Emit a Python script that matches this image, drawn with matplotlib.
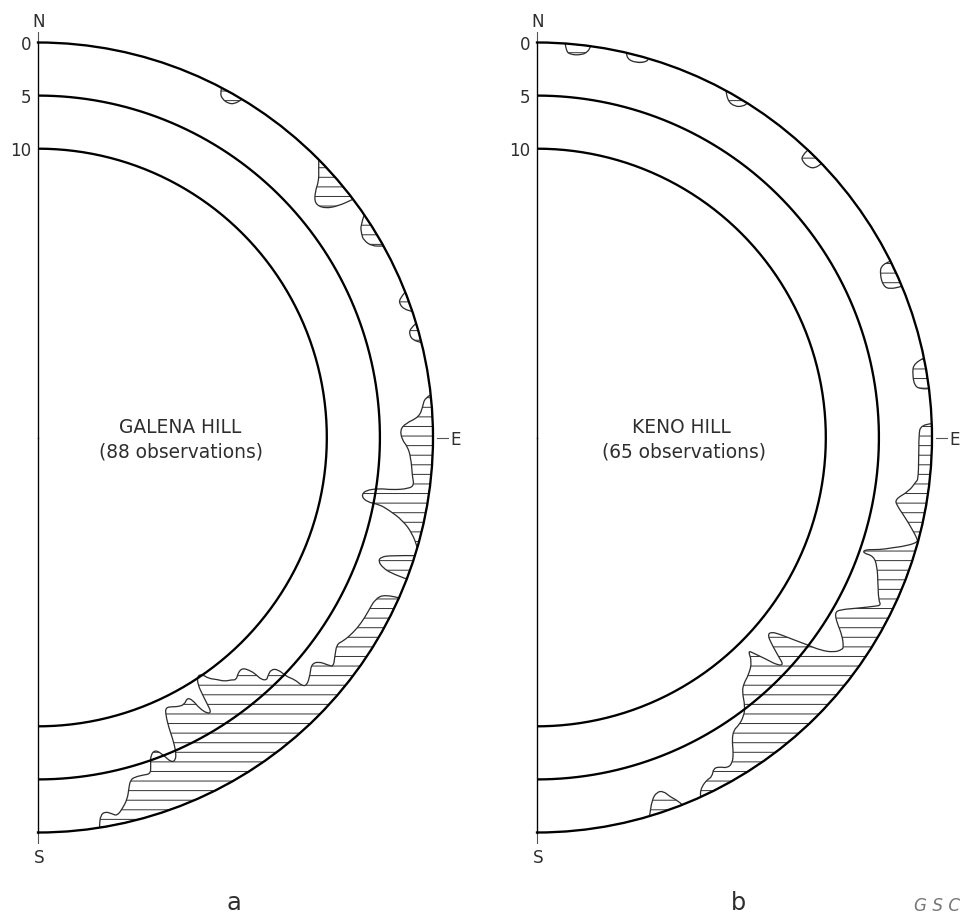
import numpy as np
import matplotlib
matplotlib.use("Agg")
import matplotlib.pyplot as plt
from matplotlib.path import Path
from matplotlib.patches import PathPatch

# ---------------- data ----------------
rings = [5, 10]                      # inner reference circles (outer circle = 0)
ring_label_values = [0, 5, 10]
ring_labels = ["0", "5", "10"]
centre_value = 37.2                  # radial value at the centre of each diagram

galena_title = "GALENA HILL"
galena_count = "(88 observations)"
keno_title = "KENO HILL"
keno_count = "(65 observations)"
panel_letters = ["a", "b"]
credit = "G S C"

# Galena Hill: azimuth (deg clockwise from N) and depth in from the outer circle
ga1_az = [27.7, 27.9, 28.6, 29.6, 30.5, 31.1]
ga1_dp = [0, 0.55, 0.9, 1.0, 0.75, 0]
ga2_az = [45.3, 46.4, 47.6, 48.4, 49.8, 51.4, 52.4, 52.9]
ga2_dp = [0, 0.7, 1.4, 2.3, 3.1, 2.65, 1.45, 0]
ga3_az = [55.7, 56.65, 57.8, 58.8, 60.2, 61.0]
ga3_dp = [0, 0.85, 1.2, 1.35, 0.95, 0]
ga4_az = [68.4, 69.0, 69.8, 70.7, 71.4]
ga4_dp = [0, 0.75, 0.9, 0.65, 0]
ga5_az = [73.2, 73.7, 74.5, 75.4, 76.1]
ga5_dp = [0, 0.7, 0.9, 0.75, 0]
ga6_az = [83.8, 84.2, 85.4, 86.9, 87.8, 88.8, 90.4, 91.4, 93.0, 96.0, 97.2,
          97.85, 98.4, 98.5, 99.2, 100.3, 101.1, 101.1, 101.7, 102.8, 104.4, 106.2]
ga6_dp = [0, 0.6, 0.85, 1.25, 2.55, 3.1, 2.9, 2.4, 2.05, 1.75, 1.5,
          1.95, 3.45, 4.75, 6.0, 6.25, 5.6, 4.45, 3.45, 2.0, 0.8, 0]
ga7_az = [107.4, 108.45, 109.2, 110.0, 110.7, 111.0, 111.0]
ga7_dp = [0, 2.1, 3.0, 3.1, 2.45, 1.6, 0]
ga8_az = [113.95, 114.3, 115.6, 117.7, 119.8, 121.8, 123.7, 124.7, 126.6, 127.8,
          128.1, 128.6, 129.7, 131.1, 132.7, 133.25, 133.3, 133.9, 134.0, 134.85,
          136.1, 136.7, 137.3, 137.4, 137.6, 138.4, 139.7, 140.7, 141.4, 142.6,
          143.4, 144.8, 145.2, 146.25, 147.1, 147.4, 147.6, 147.75, 148.4, 149.2,
          149.5, 150.2, 151.3, 152.6, 153.2, 154.7, 155.3, 155.75, 155.9, 156.3,
          156.9, 157.7, 158.4, 159.4, 160.5, 161.0, 161.5, 162.6, 164.0, 164.9,
          165.5, 166.1, 167.2, 168.2, 168.9, 169.8, 170.6, 171.0, 171.0]
ga8_dp = [0, 1.34, 2.0, 2.05, 2.1, 2.3, 2.65, 3.0, 2.4, 2.0,
          2.45, 3.4, 3.75, 3.2, 2.75, 3.1, 3.95, 4.75, 5.75, 6.25,
          6.0, 5.8, 6.2, 6.85, 7.4, 8.2, 8.1, 7.7, 8.0, 8.3,
          8.8, 9.45, 10.05, 10.2, 9.5, 8.4, 7.4, 6.65, 6.65, 7.5,
          8.5, 8.95, 8.5, 8.65, 8.8, 9.1, 8.4, 7.15, 6.15, 4.9,
          4.15, 4.15, 5.0, 5.8, 5.45, 4.6, 3.8, 3.9, 3.95, 3.8,
          3.05, 2.15, 1.35, 0.8, 1.1, 1.4, 1.15, 0.2, 0]

# Keno Hill
kb1_az = [4.1, 4.3, 5.0, 6.5, 7.5, 7.8]
kb1_dp = [0, 0.7, 1.0, 0.95, 0.6, 0]
kb2_az = [13.1, 13.3, 14.9, 16.25, 16.4]
kb2_dp = [0, 0.55, 0.7, 0.35, 0]
kb3_az = [28.6, 29.4, 30.9, 31.9, 32.2]
kb3_dp = [0, 0.75, 0.9, 0.45, 0]
kb4_az = [43.3, 43.2, 44.0, 45.2, 45.9, 46.1]
kb4_dp = [0, 0.85, 1.15, 1.1, 0.75, 0]
kb5_az = [63.5, 63.3, 64.6, 66.4, 67.2, 67.5]
kb5_dp = [0, 0.9, 1.45, 1.6, 1.15, 0]
kb6_az = [78.4, 78.8, 80.5, 82.3, 82.8, 82.9]
kb6_dp = [0, 1.05, 1.35, 1.3, 0.7, 0]
kb7_az = [88.0, 88.05, 89.8, 93.3, 96.3, 96.6, 98.2, 99.8, 100.8, 102.3,
          103.8, 105.0, 105.4, 106.3, 107.35, 108.1, 108.85, 109.5, 109.4, 110.75,
          113.1, 115.4, 116.0, 116.6, 117.8, 119.6, 120.5, 121.7, 122.9, 124.3,
          124.8, 125.9, 126.9, 127.5, 128.25, 129.0, 129.7, 130.6, 131.4, 132.2,
          132.7, 133.45, 134.0, 134.9, 135.3, 136.2, 138.3, 139.9, 141.1, 142.3,
          143.5, 144.95, 146.1, 147.2, 148.1, 149.1, 150.1, 150.9, 151.9, 152.7,
          153.6, 154.7, 155.35, 155.5]
kb7_dp = [0, 1.05, 1.25, 1.2, 1.1, 1.25, 1.8, 3.0, 2.65, 1.7,
          0.8, 0.1, 0.05, 0.9, 2.3, 3.2, 4.55, 4.65, 3.6, 2.95,
          2.3, 1.6, 1.15, 1.7, 2.8, 4.4, 4.65, 4.0, 3.0, 2.25,
          2.2, 2.7, 3.85, 5.15, 6.45, 7.75, 8.55, 8.6, 7.7, 6.5,
          5.6, 6.05, 7.1, 8.45, 8.95, 7.95, 7.25, 6.95, 6.45, 5.15,
          4.5, 4.1, 4.0, 3.3, 2.2, 1.4, 1.3, 1.7, 1.9, 1.25,
          1.2, 0.85, 0.35, 0]
kb8_az = [158.4, 158.9, 159.65, 160.35, 161.35, 162.4, 163.45]
kb8_dp = [0, 0.6, 1.1, 1.85, 1.95, 1.4, 0]

galena_az = [ga1_az, ga2_az, ga3_az, ga4_az, ga5_az, ga6_az, ga7_az, ga8_az]
galena_dp = [ga1_dp, ga2_dp, ga3_dp, ga4_dp, ga5_dp, ga6_dp, ga7_dp, ga8_dp]
keno_az = [kb1_az, kb2_az, kb3_az, kb4_az, kb5_az, kb6_az, kb7_az, kb8_az]
keno_dp = [kb1_dp, kb2_dp, kb3_dp, kb4_dp, kb5_dp, kb6_dp, kb7_dp, kb8_dp]

# ---------------- style ----------------
W, H, DPI = 965, 916, 115
INK = "#2e2e2e"
plt.rcParams["font.family"] = ["DejaVu Sans"]
plt.rcParams["hatch.linewidth"] = 0.6
plt.rcParams["hatch.color"] = "#3a3a3a"

fig = plt.figure(figsize=(W / DPI, H / DPI), dpi=DPI)


def fpx(x, y):
    return x / W, 1 - y / H


def make_axes(axis_x_px):
    # the half-disc wedge occupies the central half (in width) of a square box
    top, radius = 42.5, 395.0
    side = 2 * radius
    left = axis_x_px - radius / 2
    ax = fig.add_axes([left / W, (H - top - side) / H, side / W, side / H],
                      projection="polar")
    ax.set_theta_zero_location("N")
    ax.set_theta_direction(-1)
    ax.set_thetamin(0)
    ax.set_thetamax(180)
    ax.set_rlim(centre_value, 0)
    ax.set_xticks([])
    ax.set_yticks([])
    ax.grid(False)
    ax.patch.set_alpha(0)
    for s in ("start", "end", "inner"):
        if s in ax.spines:
            ax.spines[s].set_visible(False)
    ax.spines["polar"].set_linewidth(1.45)
    ax.spines["polar"].set_color("black")
    return ax


def outline_path(az, dp):
    """Smooth outline (quadratic Bezier through the read points) closed
    back along the outer circle."""
    th = np.deg2rad(np.asarray(az, float))
    r = np.asarray(dp, float)
    verts = [(th[0], r[0])]
    codes = [Path.MOVETO]
    for i in range(1, len(th) - 1):
        verts += [(th[i], r[i]), ((th[i] + th[i + 1]) / 2, (r[i] + r[i + 1]) / 2)]
        codes += [Path.CURVE3, Path.CURVE3]
    verts.append((th[-1], r[-1]))
    codes.append(Path.LINETO)
    base = np.linspace(th[-1], th[0], 40)
    for b in base[1:]:
        verts.append((b, 0.0))
        codes.append(Path.LINETO)
    verts.append((th[0], r[0]))
    codes.append(Path.CLOSEPOLY)
    return Path(verts, codes)


def draw_panel(ax, az_list, dp_list):
    for az, dp in zip(az_list, dp_list):
        patch = PathPatch(outline_path(az, dp), facecolor="white",
                          edgecolor=INK, hatch="--", linewidth=0.8, zorder=2,
                          transform=ax.transData)
        ax.add_patch(patch)
    th = np.linspace(0, np.pi, 400)
    for r in rings:
        ax.plot(th, np.full_like(th, r), color="black", lw=1.45, zorder=3)
    # N-S axis
    ax.plot([0, 0], [-1.0, centre_value], color="#555555", lw=0.7,
            clip_on=False, zorder=1)
    ax.plot([np.pi, np.pi], [centre_value, -1.0], color="#555555", lw=0.7,
            clip_on=False, zorder=1)
    # E tick
    ax.plot([np.pi / 2, np.pi / 2], [-0.35, -1.4], color="#555555", lw=0.7,
            clip_on=False, zorder=1)
    for v, lab in zip(ring_label_values, ring_labels):
        ax.annotate(lab, xy=(0, v), xytext=(-7, -7.5), textcoords="offset pixels",
                    ha="right", va="baseline", fontsize=10.5, color=INK,
                    annotation_clip=False)
    ax.annotate("N", xy=(0, 0), xytext=(1, 15.5), textcoords="offset pixels",
                ha="center", va="baseline", fontsize=10.5, color=INK,
                annotation_clip=False)
    ax.annotate("S", xy=(np.pi, 0), xytext=(1, -30.5), textcoords="offset pixels",
                ha="center", va="baseline", fontsize=10.5, color=INK,
                annotation_clip=False)
    ax.annotate("E", xy=(np.pi / 2, 0), xytext=(23, -7.5), textcoords="offset pixels",
                ha="center", va="baseline", fontsize=10.5, color=INK,
                annotation_clip=False)


ax_a = make_axes(38.0)
draw_panel(ax_a, galena_az, galena_dp)
ax_b = make_axes(537.0)
draw_panel(ax_b, keno_az, keno_dp)

fig.text(*fpx(180.5, 433), galena_title, ha="center", va="baseline",
         fontsize=11.7, color=INK)
fig.text(*fpx(181, 458), galena_count, ha="center", va="baseline",
         fontsize=11.7, color=INK)
fig.text(*fpx(681.7, 433), keno_title, ha="center", va="baseline",
         fontsize=11.7, color=INK)
fig.text(*fpx(684, 458), keno_count, ha="center", va="baseline",
         fontsize=11.7, color=INK)
fig.text(*fpx(233.5, 910), panel_letters[0], ha="center", va="baseline",
         fontsize=15, color=INK)
fig.text(*fpx(738.5, 910), panel_letters[1], ha="center", va="baseline",
         fontsize=15, color=INK)
fig.text(*fpx(937, 911), credit, ha="center", va="baseline", fontsize=10.5,
         style="italic", color="#777777")

fig.savefig("out.png", dpi=DPI)
